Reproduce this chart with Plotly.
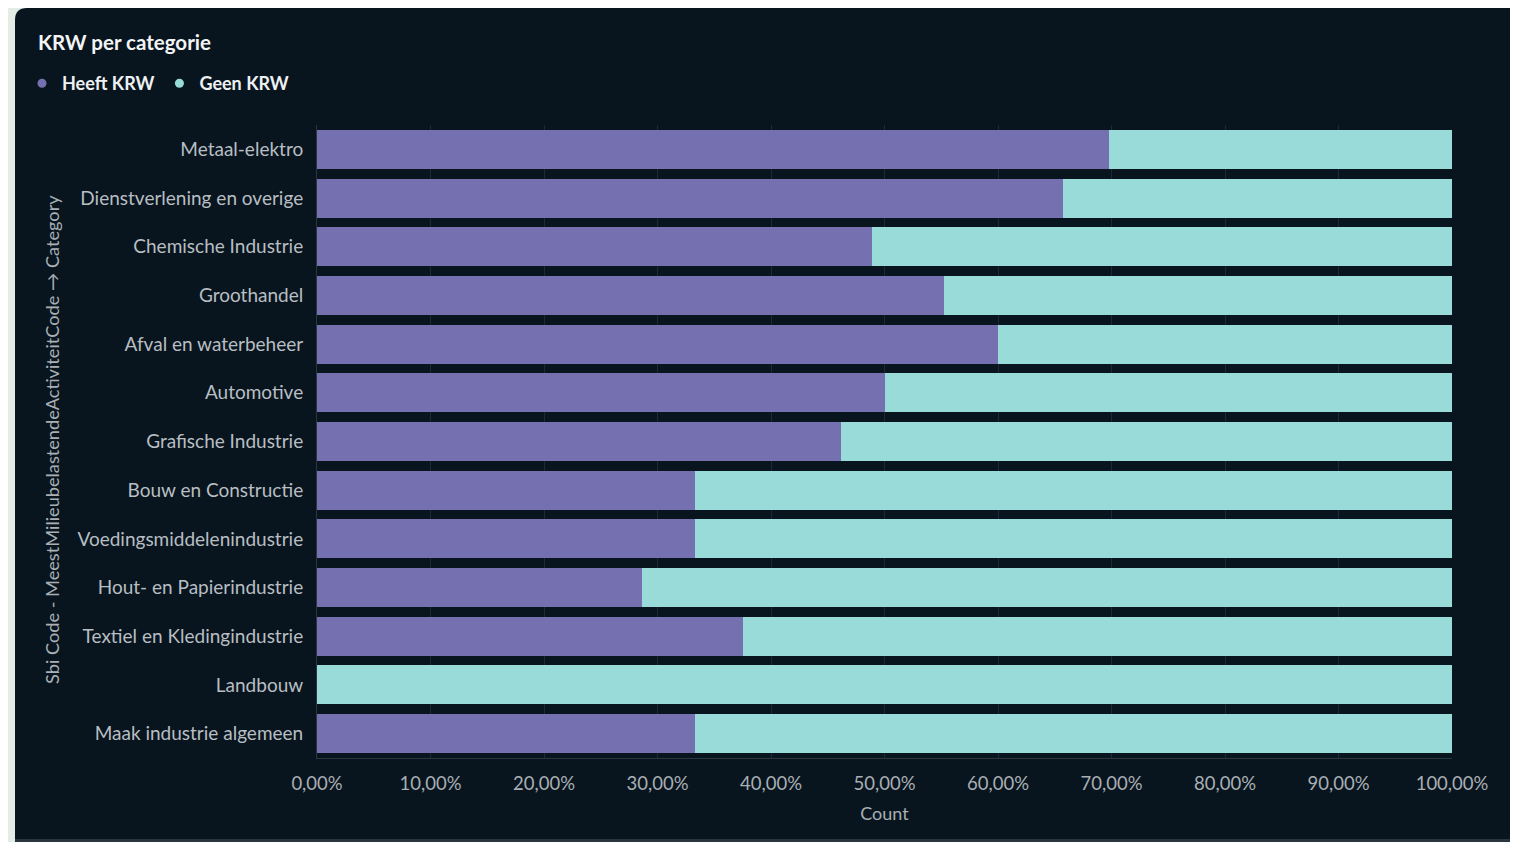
import plotly.graph_objects as go

categories = [
    "Metaal-elektro", "Dienstverlening en overige", "Chemische Industrie", "Groothandel",
    "Afval en waterbeheer", "Automotive", "Grafische Industrie", "Bouw en Constructie",
    "Voedingsmiddelenindustrie", "Hout- en Papierindustrie", "Textiel en Kledingindustrie",
    "Landbouw", "Maak industrie algemeen",
]
heeft_krw = [69.8, 65.7, 48.9, 55.2, 60.0, 50.0, 46.2, 33.3, 33.3, 28.6, 37.5, 0.0, 33.3]
geen_krw = [30.2, 34.3, 51.1, 44.8, 40.0, 50.0, 53.8, 66.7, 66.7, 71.4, 62.5, 100.0, 66.7]
series_names = ["Heeft KRW", "Geen KRW"]
tick_values = [0, 10, 20, 30, 40, 50, 60, 70, 80, 90, 100]
tick_labels = ["0,00%", "10,00%", "20,00%", "30,00%", "40,00%", "50,00%",
               "60,00%", "70,00%", "80,00%", "90,00%", "100,00%"]

PURPLE = "#7571b0"
TEAL = "#98dbd9"
BG = "#08151e"
LIGHT = "#e4ece6"
FONT = "Lato, 'Open Sans', sans-serif"

fig = go.Figure()
for name, vals, col in [(series_names[0], heeft_krw, PURPLE), (series_names[1], geen_krw, TEAL)]:
    fig.add_trace(go.Bar(
        y=categories, x=vals, name=name, orientation="h",
        marker=dict(color=col, line=dict(width=0)), showlegend=False,
    ))
    fig.add_trace(go.Scatter(
        x=[None], y=[None], mode="markers", name=name,
        marker=dict(color=col, size=9, symbol="circle"), showlegend=True,
    ))

OFF = 8  # page body margin
W, H = 1518 - OFF, 842 - OFF
# plot area in screen pixels
SX0, SX1, SY0, SY1 = 317, 1452, 125, 758
L = SX0 - OFF
R = W - (SX1 - OFF)
T = SY0 - OFF
B = H - (SY1 - OFF)
pw = W - L - R
ph = H - T - B

def px(sx):
    return (sx - OFF - L) / pw

def py(sy):
    return (H - B - (sy - OFF)) / ph

cx0, cy0, cy1 = px(15), py(839), py(8)
rx = 12 / pw
ry = 12 / ph
# light surround: left strip with rounded card corner, and bottom line
left_strip = (f"M {px(0)},{py(850)} L {px(0)},{py(0)} L {cx0 + rx},{py(0)} L {cx0 + rx},{cy1} "
              f"Q {cx0},{cy1} {cx0},{cy1 - ry} L {cx0},{py(850)} Z")

fig.update_layout(
    width=W, height=H,
    margin=dict(l=L, r=R, t=T, b=B, pad=0),
    paper_bgcolor=BG,
    plot_bgcolor=BG,
    barmode="stack",
    bargap=0.2,
    font=dict(family=FONT, color="#b4bac0", size=18),
    showlegend=True,
    legend=dict(
        orientation="h", x=px(22), y=py(65),
        xanchor="left", yanchor="top", traceorder="normal",
        font=dict(family=FONT, size=18, color="#eef1f3", weight="bold"),
        bgcolor="rgba(0,0,0,0)", itemwidth=30, tracegroupgap=0,
    ),
    xaxis=dict(
        range=[0, 100], tickvals=tick_values, ticktext=tick_labels,
        showgrid=True, gridcolor="#1d2934", gridwidth=1,
        zeroline=False, showline=True, linecolor="#2a3640", linewidth=1,
        ticks="outside", ticklen=9, tickcolor="rgba(0,0,0,0)",
        tickfont=dict(size=18.5, color="#a8afb5"),
        title=dict(text="Count", font=dict(size=18, color="#a8afb5"), standoff=14),
    ),
    yaxis=dict(
        categoryorder="array", categoryarray=categories, autorange="reversed",
        showgrid=False, zeroline=False, showline=True, linecolor="#2a3640", linewidth=1,
        ticks="outside", ticklen=9, tickcolor="rgba(0,0,0,0)",
        tickfont=dict(size=19, color="#b8bec3"),
    ),
    shapes=[
        dict(type="path", xref="paper", yref="paper", layer="below",
             path=left_strip, fillcolor=LIGHT, line=dict(width=0)),
        dict(type="rect", xref="paper", yref="paper", layer="below",
             x0=cx0, x1=px(1530), y0=py(850), y1=cy0,
             fillcolor="#2a353d", line=dict(width=0)),
    ],
    annotations=[
        dict(text="<b>KRW per categorie</b>", xref="paper", yref="paper",
             x=px(36), y=py(42), xanchor="left", yanchor="middle",
             showarrow=False, font=dict(family=FONT, size=20.5, color="#f2f4f6")),
        dict(text="Sbi Code - MeestMilieubelastendeActiviteitCode → Category",
             xref="paper", yref="paper", x=px(52), y=py(440),
             xanchor="center", yanchor="middle", textangle=-90, showarrow=False,
             font=dict(family=FONT, size=18.2, color="#a8afb5")),
    ],
)

fig.write_html("out.html")
